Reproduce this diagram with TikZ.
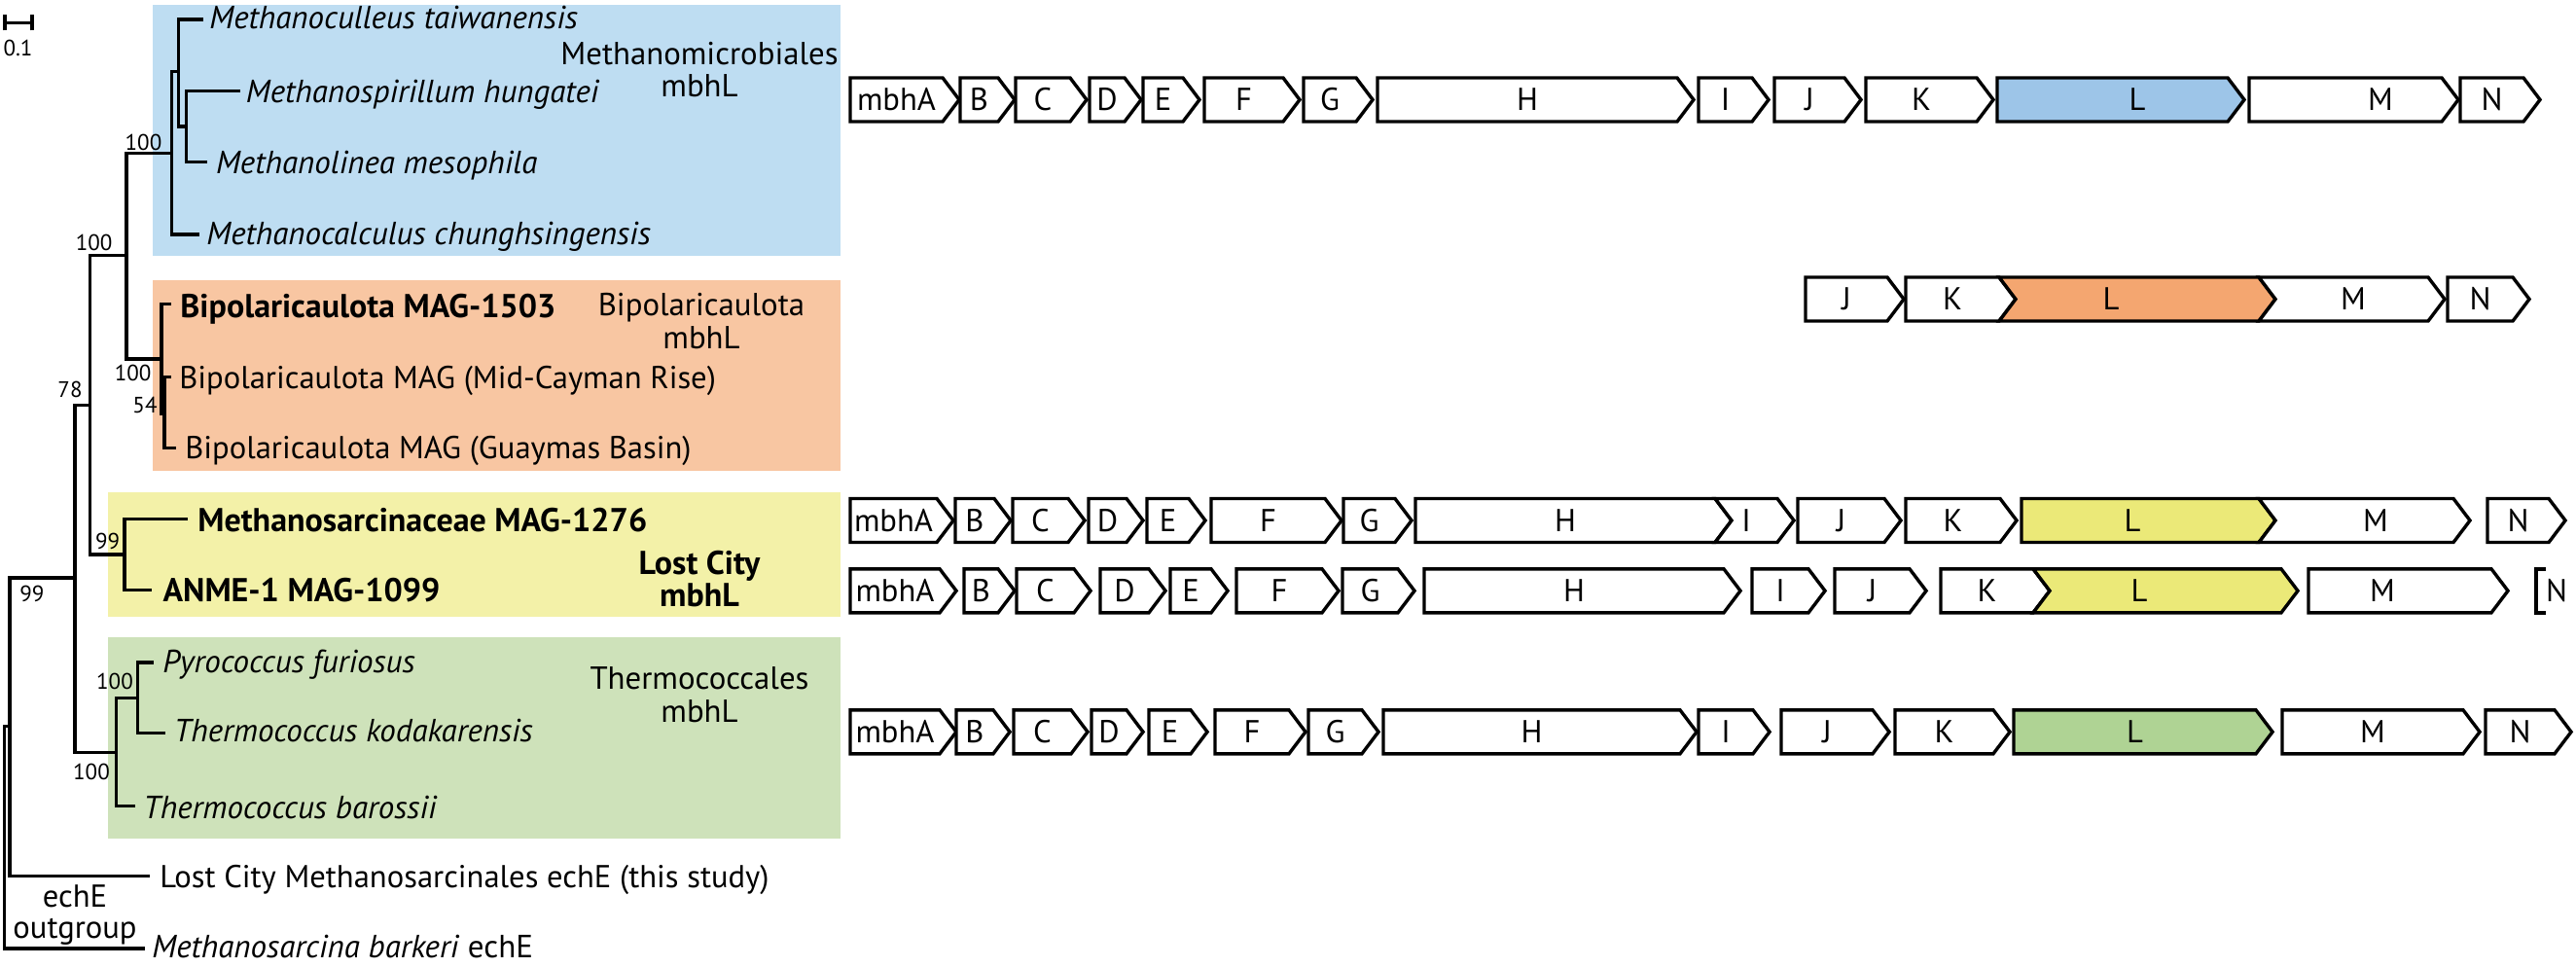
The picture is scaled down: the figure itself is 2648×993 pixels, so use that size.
\documentclass[tikz,border=0pt]{standalone}
\usepackage{fontspec}
\setmainfont{PT Sans}
\definecolor{bgblue}{RGB}{190,221,242}
\definecolor{bgorange}{RGB}{248,198,162}
\definecolor{bgyellow}{RGB}{243,241,168}
\definecolor{bggreen}{RGB}{206,226,186}
\definecolor{Lblue}{RGB}{157,197,232}
\definecolor{Lorange}{RGB}{244,166,112}
\definecolor{Lyellow}{RGB}{235,233,120}
\definecolor{Lgreen}{RGB}{175,211,148}
\tikzset{
  genebox/.style={draw=black, line width=1.7pt, line join=miter},
  genelabel/.style={anchor=base, inner sep=0pt, font=\fontsize{16.3}{19}\selectfont},
  branch/.style={draw=black, line width=1.7pt, line cap=rect},
  leaf/.style={anchor=base west, inner sep=0pt, font=\fontsize{16.3}{19}\selectfont},
  ileaf/.style={leaf, font=\fontsize{16.5}{19}\selectfont\itshape},
  bleaf/.style={leaf, font=\fontsize{17}{20}\selectfont\bfseries},
  boot/.style={anchor=center, inner sep=0pt, font=\fontsize{11.5}{13}\selectfont},
  grp/.style={align=center, anchor=center, inner sep=0pt, font=\fontsize{16.4}{16.7}\selectfont},
}
% #1 label x (or empty), #2 name, #3 left, #4 flat end, #5 y centre, #6 label, #7 fill, #8 notch
\newcommand{\genecore}[8]{%
  \draw[genebox, fill=#7] (#3,#5-22.5) -- (#4,#5-22.5) -- (#4+17,#5) -- (#4,#5+22.5) -- (#3,#5+22.5) -- (#3+#8,#5) -- cycle;
  \if\relax\detokenize{#1}\relax
    \node[genelabel] (#2) at ({(#3+#4)/2},#5+11) {#6};
  \else
    \node[genelabel] (#2) at (#1,#5+11) {#6};
  \fi}
\newcommand{\gene}[7][]{\genecore{#1}{#2}{#3}{#4}{#5}{#6}{#7}{0}}
\newcommand{\ngene}[7][]{\genecore{#1}{#2}{#3}{#4}{#5}{#6}{#7}{17}}
\begin{document}
\begin{tikzpicture}[x=0.5pt,y=-0.5pt]
\useasboundingbox (0,0) rectangle (2648,993);
% clade backgrounds
\fill[bgblue] (157,5) rectangle (864,263.3);
\fill[bgorange] (157,288.3) rectangle (864,484.3);
\fill[bgyellow] (111,506) rectangle (864,634);
\fill[bggreen] (111,655) rectangle (864,861.7);
% scale bar
\coordinate (sbA) at (5,23.3);
\coordinate (sbB) at (33,23.3);
\draw[branch, line cap=butt] (sbA) -- (sbB);
\draw[branch, line cap=butt] ([yshift=-4]sbA) -- ([yshift=4]sbA);
\draw[branch, line cap=butt] ([yshift=-4]sbB) -- ([yshift=4]sbB);
\node[boot] (sbl) at (18.5,49) {0.1};
% internal nodes
\coordinate (R0) at (4.5,746.7);
\coordinate (R1) at (10,746.7);
\coordinate (R2) at (77,594);
\coordinate (R3) at (92.5,416.7);
\coordinate (R4) at (130,262.5);
\coordinate (X) at (176.5,157.7);
\coordinate (Y) at (183.5,73.3);
\coordinate (Z) at (191.5,130);
\coordinate (B) at (166,369);
\coordinate (B54) at (169,425);
\coordinate (LC) at (128,570);
\coordinate (TH) at (119.5,773.3);
\coordinate (PY) at (141.4,717.3);
% leaf tips
\coordinate (tCull) at (207.7,20);
\coordinate (tSpir) at (245,93.3);
\coordinate (tLinea) at (211.7,166.7);
\coordinate (tCalc) at (203.3,241);
\coordinate (t1503) at (174,312.7);
\coordinate (tCay) at (174,387.7);
\coordinate (tGuay) at (179.3,460.7);
\coordinate (t1276) at (190.8,533.3);
\coordinate (tANME) at (154,606.7);
\coordinate (tFur) at (156,681);
\coordinate (tKoda) at (168.4,753.3);
\coordinate (tBaro) at (137.5,828.3);
\coordinate (tLCE) at (152.6,900.7);
\coordinate (tBark) at (147,975);
% branches
\draw[branch] (R0) |- (R1);
\draw[branch] (R0) |- (tBark);
\draw[branch] (R1) |- (R2);
\draw[branch] (R1) |- (tLCE);
\draw[branch] (R2) |- (R3);
\draw[branch] (R2) |- (TH);
\draw[branch] (R3) |- (R4);
\draw[branch] (R3) |- (LC);
\draw[branch] (R4) |- (X);
\draw[branch] (R4) |- (B);
\draw[branch] (X) |- (Y);
\draw[branch] (X) |- (tCalc);
\draw[branch] (Y) |- (tCull);
\draw[branch] (Y) |- (Z);
\draw[branch] (Z) |- (tSpir);
\draw[branch] (Z) |- (tLinea);
\draw[branch] (B) |- (t1503);
\draw[branch] (B) |- (B54);
\draw[branch] (B54) |- (tCay);
\draw[branch] (B54) |- (tGuay);
\draw[branch] (LC) |- (t1276);
\draw[branch] (LC) |- (tANME);
\draw[branch] (TH) |- (PY);
\draw[branch] (TH) |- (tBaro);
\draw[branch] (PY) |- (tFur);
\draw[branch] (PY) |- (tKoda);
% bootstrap values
\node[boot] (bX) at (147.5,146) {100};
\node[boot] (bR4) at (96.7,249) {100};
\node[boot] (bR3) at (72,400) {78};
\node[boot] (bB) at (136.7,383.3) {100};
\node[boot] (bB54) at (149,416.7) {54};
\node[boot] (bLC) at (110.7,556) {99};
\node[boot] (bR2) at (33,610) {99};
\node[boot] (bPY) at (118,700) {100};
\node[boot] (bTH) at (94,793.3) {100};
% leaf labels
\node[ileaf] (nCull) at (215,29.5) {Methanoculleus taiwanensis};
\node[ileaf] (nSpir) at (252.5,105) {Methanospirillum hungatei};
\node[ileaf] (nLinea) at (221.7,178) {Methanolinea mesophila};
\node[ileaf] (nCalc) at (212,251) {Methanocalculus chunghsingensis};
\node[bleaf] (n1503) at (185,326) {Bipolaricaulota MAG-1503};
\node[leaf] (nCay) at (184,399) {Bipolaricaulota MAG (Mid-Cayman Rise)};
\node[leaf] (nGuay) at (190,471.7) {Bipolaricaulota MAG (Guaymas Basin)};
\node[bleaf] (n1276) at (203,546) {Methanosarcinaceae MAG-1276};
\node[bleaf] (nANME) at (167.2,618.7) {ANME-1 MAG-1099};
\node[ileaf] (nFur) at (167,691) {Pyrococcus furiosus};
\node[ileaf] (nKoda) at (178.5,762.7) {Thermococcus kodakarensis};
\node[ileaf] (nBaro) at (147,841) {Thermococcus barossii};
\node[leaf] (nLCE) at (164,912.7) {Lost City Methanosarcinales echE (this study)};
\node[ileaf] (nBark) at (156,984.3) {Methanosarcina barkeri\/\upshape\ echE};
\node[grp, font=\fontsize{16.3}{15.8}\selectfont] (nOut) at (77,940.5) {echE\\outgroup};
% group labels
\node[grp] (gMeth) at (719,71.7) {Methanomicrobiales\\mbhL};
\node[grp] (gBip) at (721,330) {Bipolaricaulota\\mbhL};
\node[grp, font=\fontsize{17}{16.7}\selectfont\bfseries] (gLC) at (719,595) {Lost City\\mbhL};
\node[grp] (gTh) at (719,714.2) {Thermococcales\\mbhL};
% row 1: Methanomicrobiales
\gene{a1}{874}{969}{102.5}{mbhA}{white}
\gene{b1}{987}{1026}{102.5}{B}{white}
\gene{c1}{1044}{1100}{102.5}{C}{white}
\gene{d1}{1120}{1156}{102.5}{D}{white}
\gene{e1}{1175}{1216}{102.5}{E}{white}
\gene{f1}{1238}{1319}{102.5}{F}{white}
\gene{g1}{1340}{1394}{102.5}{G}{white}
\gene{h1}{1416}{1724}{102.5}{H}{white}
\gene{i1}{1746}{1801}{102.5}{I}{white}
\gene{j1}{1824}{1896}{102.5}{J}{white}
\gene{k1}{1918}{2032}{102.5}{K}{white}
\gene[2197]{l1}{2053}{2290}{102.5}{L}{Lblue}
\gene[2447]{m1}{2312}{2510}{102.5}{M}{white}
\gene{n1}{2529}{2594}{102.5}{N}{white}
% row 2: Bipolaricaulota
\gene{j2}{1856}{1940}{307.5}{J}{white}
\gene{k2}{1959}{2055}{307.5}{K}{white}
\ngene[2170]{l2}{2055}{2322}{307.5}{L}{Lorange}
\ngene[2419]{m2}{2322}{2496}{307.5}{M}{white}
\gene{n2}{2516}{2583}{307.5}{N}{white}
% row 3: Methanosarcinaceae MAG-1276
\gene{a3}{874}{963}{535}{mbhA}{white}
\gene{b3}{982}{1022}{535}{B}{white}
\gene{c3}{1041}{1098}{535}{C}{white}
\gene{d3}{1119}{1158}{535}{D}{white}
\gene{e3}{1179}{1222}{535}{E}{white}
\gene{f3}{1245}{1362}{535}{F}{white}
\gene{g3}{1381}{1434}{535}{G}{white}
\gene{h3}{1455}{1763}{535}{H}{white}
\ngene{i3}{1763}{1827}{535}{I}{white}
\gene{j3}{1848}{1937}{535}{J}{white}
\gene{k3}{1959}{2056}{535}{K}{white}
\gene[2192]{l3}{2078}{2322}{535}{L}{Lyellow}
\ngene[2442]{m3}{2322}{2522}{535}{M}{white}
\gene{n3}{2557}{2620}{535}{N}{white}
% row 4: ANME-1 MAG-1099
\gene{a4}{874}{966}{607.3}{mbhA}{white}
\gene{b4}{991}{1026}{607.3}{B}{white}
\gene{c4}{1045}{1104}{607.3}{C}{white}
\gene{d4}{1131}{1181}{607.3}{D}{white}
\gene{e4}{1203}{1245}{607.3}{E}{white}
\gene{f4}{1271}{1359}{607.3}{F}{white}
\gene{g4}{1380}{1437}{607.3}{G}{white}
\gene{h4}{1464}{1772}{607.3}{H}{white}
\gene{i4}{1801}{1859}{607.3}{I}{white}
\gene{j4}{1886}{1963}{607.3}{J}{white}
\gene{k4}{1995}{2090}{607.3}{K}{white}
\ngene[2199]{l4}{2090}{2345}{607.3}{L}{Lyellow}
\gene[2449]{m4}{2373}{2561}{607.3}{M}{white}
\draw[genebox] (2617,584.8) -- (2607,584.8) -- (2607,629.8) -- (2617,629.8);
\node[genelabel] (n4) at (2628,618.3) {N};
% row 5: Thermococcales
\gene{a5}{874}{966}{752.3}{mbhA}{white}
\gene{b5}{983}{1021}{752.3}{B}{white}
\gene{c5}{1042}{1101}{752.3}{C}{white}
\gene{d5}{1122}{1158}{752.3}{D}{white}
\gene{e5}{1181}{1224}{752.3}{E}{white}
\gene{f5}{1249}{1325}{752.3}{F}{white}
\gene{g5}{1345}{1400}{752.3}{G}{white}
\gene{h5}{1422}{1727}{752.3}{H}{white}
\gene{i5}{1746}{1802}{752.3}{I}{white}
\gene{j5}{1831}{1925}{752.3}{J}{white}
\gene{k5}{1948}{2049}{752.3}{K}{white}
\gene{l5}{2070}{2319}{752.3}{L}{Lgreen}
\gene{m5}{2346}{2532}{752.3}{M}{white}
\gene{n5}{2555}{2626}{752.3}{N}{white}
\end{tikzpicture}
\end{document}
